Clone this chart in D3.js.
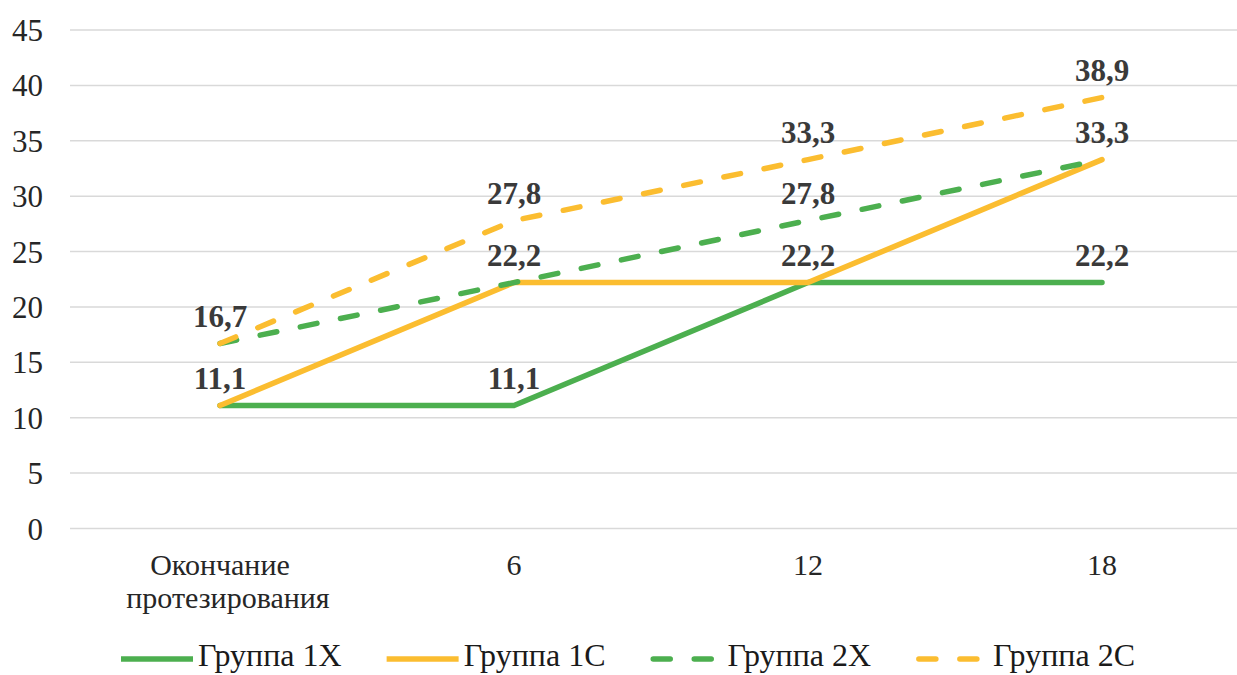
<!DOCTYPE html>
<html>
<head>
<meta charset="utf-8">
<script src="https://cdn.jsdelivr.net/npm/d3@7/dist/d3.min.js"></script>
<style>
  html, body { margin: 0; padding: 0; background: #fff; }
  svg { display: block; }
</style>
</head>
<body>
<svg id="chart" width="1237" height="675"></svg>
<script>
// Time points (months after prosthetics) and group shares, %
const categories = ["Окончание протезирования", "6", "12", "18"];
const group1X = [11.1, 11.1, 22.2, 22.2];
const group1C = [11.1, 22.2, 22.2, 33.3];
const group2X = [16.7, 22.2, 27.8, 33.3];
const group2C = [16.7, 27.8, 33.3, 38.9];
const seriesNames = ["Группа 1X", "Группа 1C", "Группа 2X", "Группа 2C"];
const yTicks = [0, 5, 10, 15, 20, 25, 30, 35, 40, 45];

const FONT = "'Liberation Serif', Tinos, 'Times New Roman', 'Noto Serif', 'DejaVu Serif', serif";
const GREEN = "#4caf4f";
const YELLOW = "#fbbd30";

const series = [
  { name: seriesNames[0], values: group1X, color: GREEN, dashed: false },
  { name: seriesNames[1], values: group1C, color: YELLOW, dashed: false },
  { name: seriesNames[2], values: group2X, color: GREEN, dashed: true },
  { name: seriesNames[3], values: group2C, color: YELLOW, dashed: true }
];

const svg = d3.select("#chart").style("font-family", FONT);
const W = 1237;
const plotLeft = 70, plotRight = W;
const DASH = "17,24";
const LW = 5.5;

const x = d3.scalePoint().domain(categories).range([73, 1249]).padding(0.5);
const y = d3.scaleLinear().domain([0, 45]).range([528.5, 30]);

// Horizontal gridlines
svg.append("g")
  .selectAll("line")
  .data(yTicks)
  .join("line")
  .attr("x1", plotLeft)
  .attr("x2", plotRight)
  .attr("y1", d => y(d))
  .attr("y2", d => y(d))
  .attr("stroke", "#d9d9d9")
  .attr("stroke-width", 1.5);

// Y axis labels
const yAxis = d3.axisLeft(y).tickValues(yTicks).tickSize(0).tickPadding(0);
const yg = svg.append("g").attr("transform", "translate(43,0)").call(yAxis);
yg.attr("font-family", null).attr("font-size", null);
yg.select(".domain").remove();
yg.selectAll("text")
  .style("font-family", FONT)
  .style("font-size", "31px")
  .attr("fill", "#262626")
  .attr("dy", "0.34em");

// X axis labels (wrapped on spaces)
const xg = svg.append("g");
categories.forEach(c => {
  const words = c.split(" ");
  const t = xg.append("text")
    .attr("x", x(c))
    .attr("y", 575)
    .attr("text-anchor", "middle")
    .style("font-family", FONT)
    .style("font-size", "30px")
    .attr("fill", "#262626");
  words.forEach((w, i) => {
    t.append("tspan").attr("x", x(c) + (i === 0 ? 0 : 8)).attr("dy", i === 0 ? 0 : 33).text(w);
  });
});

// Series lines
const line = d3.line()
  .x((d, i) => x(categories[i]))
  .y(d => y(d));

svg.append("g")
  .selectAll("path")
  .data(series)
  .join("path")
  .attr("d", s => line(s.values))
  .attr("fill", "none")
  .attr("stroke", s => s.color)
  .attr("stroke-width", LW)
  .attr("stroke-linejoin", "round")
  .attr("stroke-linecap", "round")
  .attr("stroke-dasharray", s => s.dashed ? DASH : null);

// Value labels: one per distinct value at each time point
const labels = [];
categories.forEach((c, i) => {
  const vals = Array.from(new Set(series.map(s => s.values[i])));
  vals.forEach(v => labels.push({ c, v }));
});

svg.append("g")
  .selectAll("text")
  .data(labels)
  .join("text")
  .attr("x", d => x(d.c))
  .attr("y", d => y(d.v) - 17)
  .attr("text-anchor", "middle")
  .style("font-family", FONT)
  .style("font-size", "31px")
  .style("font-weight", "bold")
  .attr("fill", "#3a3a3a")
  .text(d => d.v.toFixed(1).replace(".", ","));

// Legend
const legend = svg.append("g");
let lx = 121;
const ly = 659;
series.forEach(s => {
  legend.append("line")
    .attr("x1", s.dashed ? lx + 2.75 : lx)
    .attr("x2", lx + 72)
    .attr("y1", ly)
    .attr("y2", ly)
    .attr("stroke", s.color)
    .attr("stroke-width", LW)
    .attr("stroke-linecap", s.dashed ? "round" : "butt")
    .attr("stroke-dasharray", s.dashed ? DASH : null);
  const t = legend.append("text")
    .attr("x", lx + 77)
    .attr("y", 666)
    .style("font-family", FONT)
    .style("font-size", "32px")
    .attr("fill", "#1a1a1a")
    .text(s.name);
  const w = t.node().getComputedTextLength();
  lx = lx + 77 + w + 45;
});
</script>
</body>
</html>
